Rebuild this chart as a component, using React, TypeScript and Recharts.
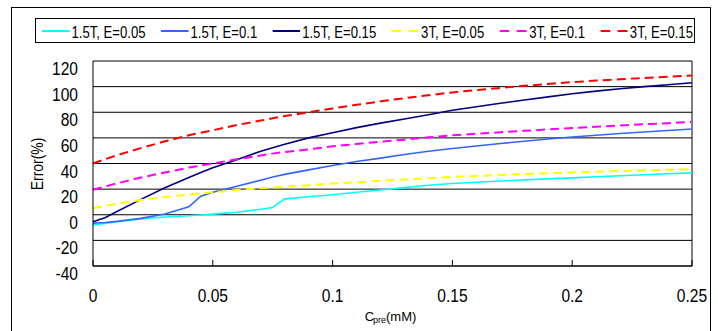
import React from 'react';
import { LineChart, Line, XAxis, YAxis, CartesianGrid, Legend, ReferenceLine } from 'recharts';

const cPre = [0, 0.005, 0.01, 0.02, 0.03, 0.04, 0.045, 0.05, 0.06, 0.07, 0.075, 0.08, 0.09, 0.1, 0.11, 0.12, 0.13, 0.14, 0.15, 0.16, 0.17, 0.18, 0.19, 0.2, 0.21, 0.22, 0.23, 0.24, 0.25];

const t15E005 = [-8, -6.8, -5.5, -3.3, -1.8, -0.8, -0.2, 0.5, 2, 4.3, 5.7, 12.4, 14, 15.6, 17.5, 19.3, 21.2, 23, 24.4, 25.4, 26.3, 27.2, 28, 28.8, 29.6, 30.4, 31.2, 32, 32.7];
const t15E01 = [-6.5, -6, -5.2, -2.8, 0.6, 6.2, 14.5, 17.5, 22.3, 27, 29.4, 31.5, 35, 38.5, 41.5, 44.2, 47, 49.5, 51.7, 53.7, 55.6, 57.4, 59.1, 60.7, 62.1, 63.4, 64.6, 65.8, 66.9];
const t15E015 = [-5.4, -2.3, 2.5, 12, 21, 29, 33, 36.7, 43, 49.5, 52.3, 55, 60, 64, 68, 71.5, 74.8, 78, 81.5, 84.3, 87, 89.6, 92, 94.5, 96.5, 98.3, 100, 101.5, 103];
const t3E005 = [5, 6.8, 8.5, 11.5, 13.8, 15.8, 16.7, 17.5, 19.3, 20.6, 21.2, 21.8, 23.1, 24.4, 25.3, 26.5, 27.5, 28.5, 29.5, 30.3, 31, 31.7, 32.4, 33, 33.6, 34.1, 34.6, 35.1, 35.6];
const t3E01 = [19.5, 22, 24.5, 29, 33, 36.8, 38.4, 40, 43.3, 46.3, 47.7, 49, 51, 53.4, 55.2, 57, 58.6, 60.4, 62, 63.2, 64.4, 65.5, 66.6, 67.7, 68.7, 69.6, 70.6, 71.5, 72.4];
const t3E015 = [40, 43.3, 46.5, 52, 57.3, 62, 64, 66, 70, 73.5, 75.3, 77, 80, 83, 85.8, 88.5, 91, 93.3, 95.5, 97.3, 99, 100.6, 102.1, 103.5, 104.7, 105.8, 106.8, 107.8, 108.7];

const seriesNames = ['1.5T, E=0.05', '1.5T, E=0.1', '1.5T, E=0.15', '3T, E=0.05', '3T, E=0.1', '3T, E=0.15'];
const seriesValues = [t15E005, t15E01, t15E015, t3E005, t3E01, t3E015];
const seriesColors = ['#00FFFF', '#3366FF', '#000080', '#FFFF00', '#FF00FF', '#FF0000'];
const seriesDashed = [false, false, false, true, true, true];

const yTicks = [-40, -20, 0, 20, 40, 60, 80, 100, 120];
const xTicks = [0, 0.05, 0.1, 0.15, 0.2, 0.25];
const xTickLabels = ['0', '0.05', '0.1', '0.15', '0.2', '0.25'];

const yLabel = 'Error(%)';
const xLabelMain = 'C';
const xLabelSub = 'pre';
const xLabelTail = '(mM)';

const REG = '"Liberation Sans", Arial, sans-serif';
const SX = 0.82;

const data = cPre.map((x, i) => {
  const row: Record<string, number> = { x };
  seriesValues.forEach((vals, s) => {
    row['s' + s] = vals[i];
  });
  return row;
});

const YTick = (props: any) => {
  const { x, y, payload } = props;
  return (
    <text
      transform={`translate(${x},${y + 14}) scale(${SX},1)`}
      x={0}
      y={0}
      textAnchor="end"
      fontFamily={REG}
      fontSize={19}
      fill="#000"
    >
      {payload.value}
    </text>
  );
};

const XTick = (props: any) => {
  const { x, payload, index } = props;
  const label = xTickLabels[index] ?? String(payload.value);
  return (
    <text
      transform={`translate(${x},302) scale(${SX},1)`}
      x={0}
      y={0}
      textAnchor="middle"
      fontFamily={REG}
      fontSize={19}
      fill="#000"
    >
      {label}
    </text>
  );
};

const LegendContent = (props: any) => {
  const payload = props.payload || [];
  const innerW = (660 - 2 - 7) / SX;
  return (
    <div
      style={{
        boxSizing: 'border-box',
        width: 660,
        height: 25,
        border: '1px solid #000',
        background: '#fff',
        paddingLeft: 6,
        paddingRight: 1,
        overflow: 'hidden',
      }}
    >
      <div
        style={{
          width: innerW,
          height: 23,
          transform: `scaleX(${SX})`,
          transformOrigin: 'left center',
          display: 'flex',
          alignItems: 'center',
          justifyContent: 'space-between',
          fontFamily: REG,
          fontSize: 16,
          color: '#000',
        }}
      >
        {payload.map((entry: any, i: number) => {
          const idx = seriesNames.indexOf(entry.value);
          const dashed = idx >= 0 ? seriesDashed[idx] : false;
          return (
            <div key={i} style={{ display: 'flex', alignItems: 'center', whiteSpace: 'nowrap' }}>
              <svg width={34} height={6} style={{ display: 'block' }}>
                <line
                  x1={0}
                  y1={3}
                  x2={34}
                  y2={3}
                  stroke={entry.color}
                  strokeWidth={2}
                  strokeDasharray={dashed ? '12 9' : undefined}
                />
              </svg>
              <span style={{ marginLeft: 2, position: 'relative', top: 2 }}>{entry.value}</span>
            </div>
          );
        })}
      </div>
    </div>
  );
};

const XLabel = (props: any) => {
  const vb = props.viewBox || { x: 93, width: 599 };
  const cx = vb.x + vb.width / 2 - 2;
  return (
    <text x={cx} y={320.5} textAnchor="middle" fontFamily={REG} fontSize={13} fill="#000">
      <tspan>{xLabelMain}</tspan>
      <tspan fontSize={9} dy={2} dx={-1}>{xLabelSub}</tspan>
      <tspan fontSize={13} dy={-2}>{xLabelTail}</tspan>
    </text>
  );
};

const YLabel = () => {
  return (
    <text
      x={0}
      y={0}
      textAnchor="middle"
      fontFamily={REG}
      fontSize={17}
      fill="#000"
      transform={`translate(43,164) rotate(-90) scale(${SX},1)`}
    >
      {yLabel}
    </text>
  );
};

export default function App() {
  return (
    <div style={{ position: 'absolute', left: 0, top: 0, width: 718, height: 331, overflow: 'hidden', background: '#fff' }}>
      <div
        style={{
          position: 'absolute',
          left: 11,
          top: 7,
          width: 700,
          height: 330,
          boxSizing: 'border-box',
          border: '1px solid #000',
          borderBottom: 'none',
        }}
      />
      <div style={{ position: 'absolute', left: 0, top: 0 }}>
        <LineChart width={718} height={331} data={data} margin={{ top: 61, right: 26, bottom: 35, left: 33 }}>
          <CartesianGrid vertical={false} stroke="#000" strokeWidth={1} />
          <XAxis
            dataKey="x"
            type="number"
            domain={[0, 0.25]}
            ticks={xTicks}
            interval={0}
            height={30}
            axisLine={{ stroke: '#000', strokeWidth: 1 }}
            tickLine={{ stroke: '#000', strokeWidth: 1 }}
            tickSize={-6}
            tickMargin={0}
            tick={<XTick />}
            label={<XLabel />}
          />
          <YAxis
            type="number"
            domain={[-40, 120]}
            ticks={yTicks}
            interval={0}
            width={60}
            axisLine={{ stroke: '#000', strokeWidth: 1 }}
            tickLine={false}
            tickSize={0}
            tickMargin={15}
            tick={<YTick />}
            label={<YLabel />}
          />
          <ReferenceLine x={0.25} stroke="#000" strokeWidth={1} ifOverflow="visible" />
          <Legend
            verticalAlign="middle"
            align="center"
            layout="horizontal"
            width={660}
            wrapperStyle={{ top: 18, left: 35, width: 660, height: 25 }}
            content={<LegendContent />}
          />
          {seriesNames.map((name, s) => (
            <Line
              key={name}
              type="linear"
              dataKey={'s' + s}
              name={name}
              stroke={seriesColors[s]}
              strokeWidth={seriesDashed[s] ? 2 : 1.6}
              strokeDasharray={seriesDashed[s] ? '9 5' : undefined}
              dot={false}
              activeDot={false}
              isAnimationActive={false}
            />
          ))}
        </LineChart>
      </div>
    </div>
  );
}
